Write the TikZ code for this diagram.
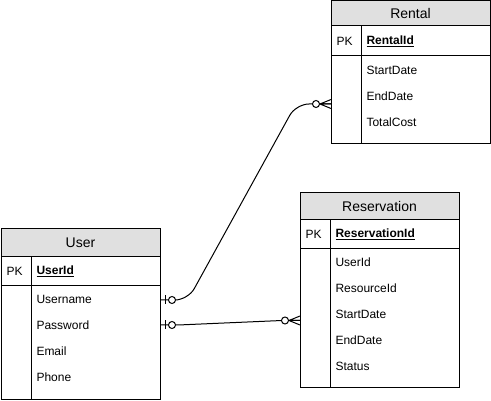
\documentclass[tikz,border=0pt]{standalone}
\usepackage{fontspec}
\setmainfont{Liberation Sans}
\usepackage{tikz}
\usetikzlibrary{positioning}

\definecolor{headgray}{RGB}{224,224,224}

\tikzset{
	tblhead/.style={draw, fill=headgray, minimum width=159, inner sep=0pt, outer sep=0pt, anchor=north west, font=\fontsize{14}{16}\selectfont},
	tblrow/.style={draw, minimum width=159, inner sep=0pt, outer sep=0pt, anchor=north west},
	field/.style={anchor=west, inner sep=0pt, font=\fontsize{12}{14}\selectfont},
	zeroone/.pic={
		\draw (5,-4.5) -- (5,4.5);
		\draw[fill=white] (12,0) circle (3.5);
	},
	zeromany/.pic={
		\draw (-11,0) -- (0,-4.5) (-11,0) -- (0,0) (-11,0) -- (0,4.5);
		\draw[fill=white] (-15,0) circle (3.5);
	},
}

\begin{document}
\begin{tikzpicture}[x=1pt, y=-1pt, line width=1pt]
			\useasboundingbox (0,0) rectangle (491,401);
			
			% Rental
			\node[tblhead, minimum height=25] (rental) at (331,1) {Rental};
			\node[tblrow, minimum height=30] (rentalpk) at (rental.south west) {};
			\node[tblrow, minimum height=88] (rentalbody) at (rentalpk.south west) {};
			\draw ([xshift=30]rentalpk.north west) -- ([xshift=30]rentalbody.south west);
			\node[field] (rentalpkkey) at ([xshift=5]rentalpk.west) {PK};
			\node[field] (rentalid) at ([xshift=35]rentalpk.west) {\underline{\textbf{RentalId}}};
			\foreach \f [count=\i] in {StartDate,EndDate,TotalCost}
				\node[field] (rental-\i) at (366,44+26*\i) {\f};
			
			% Reservation
			\node[tblhead, minimum height=27] (resv) at (300,192.7) {Reservation};
			\node[tblrow, minimum height=29] (resvpk) at (resv.south west) {};
			\node[tblrow, minimum height=139.3] (resvbody) at (resvpk.south west) {};
			\draw ([xshift=30]resvpk.north west) -- ([xshift=30]resvbody.south west);
			\node[field] (resvpkkey) at ([xshift=5]resvpk.west) {PK};
			\node[field] (resvid) at ([xshift=35]resvpk.west) {\underline{\textbf{ReservationId}}};
			\foreach \f [count=\i] in {UserId,ResourceId,StartDate,EndDate,Status}
				\node[field] (resv-\i) at (335,236+26*\i) {\f};
			
			% User
			\node[tblhead, minimum height=28] (user) at (1,229) {User};
			\node[tblrow, minimum height=29] (userpk) at (user.south west) {};
			\node[tblrow, minimum height=113.5] (userbody) at (userpk.south west) {};
			\draw ([xshift=30]userpk.north west) -- ([xshift=30]userbody.south west);
			\node[field] (userpkkey) at ([xshift=5]userpk.west) {PK};
			\node[field] (userid) at ([xshift=35]userpk.west) {\underline{\textbf{UserId}}};
			\foreach \f [count=\i] in {Username,Password,Email,Phone}
				\node[field] (user-\i) at (36,273+26*\i) {\f};
			
			% relations
			\coordinate (uname) at (160,300);
			\coordinate (upass) at (160,325);
			\coordinate (rentin) at (331,104);
			\coordinate (resvin) at (300,320.5);
			
			\draw[rounded corners=13] (uname) -- (188,300) -- (296,104) -- (rentin);
			\draw (upass) -- (178,325) -- (282,320.5) -- (resvin);
			
			\pic at (uname) {zeroone};
			\pic at (upass) {zeroone};
			\pic at (rentin) {zeromany};
			\pic at (resvin) {zeromany};
			\end{tikzpicture}
\end{document}
